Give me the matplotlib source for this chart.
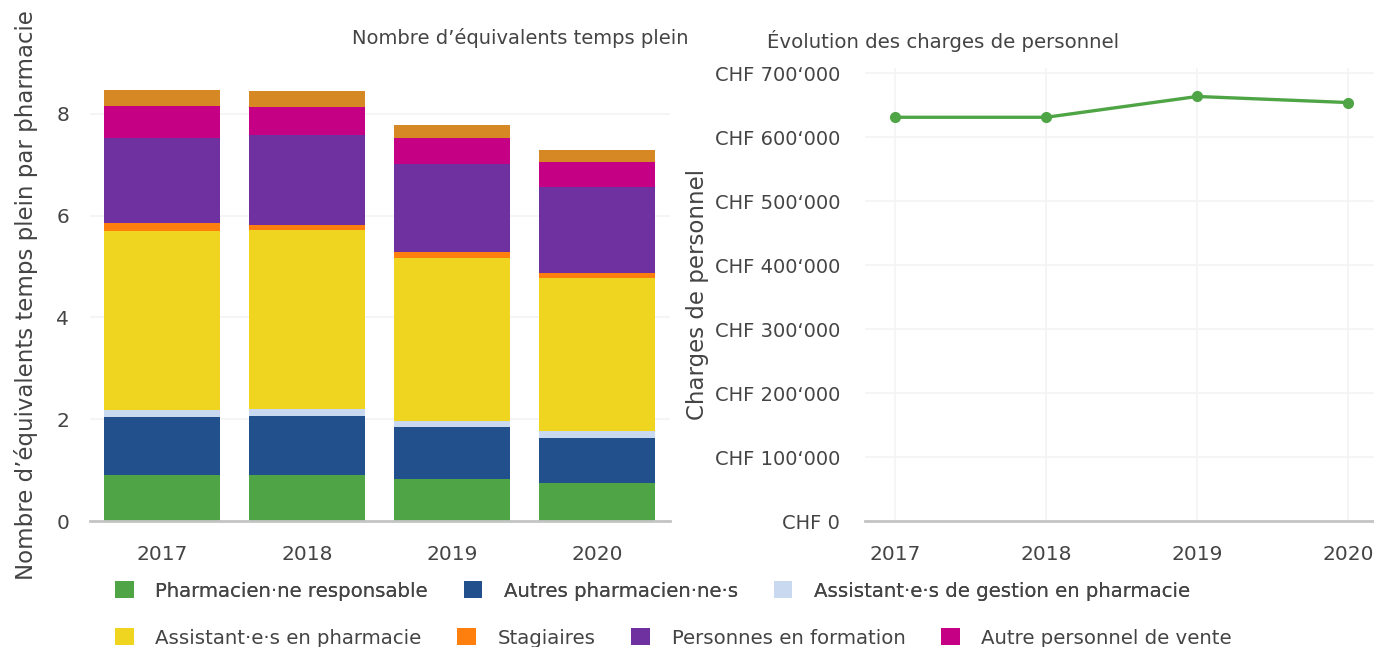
import matplotlib.pyplot as plt
from matplotlib.patches import Patch
from matplotlib.ticker import FuncFormatter

years = ["2017", "2018", "2019", "2020"]

# stacked FTE per pharmacy, bottom to top
categories = [
    "Pharmacien·ne responsable",
    "Autres pharmacien·ne·s",
    "Assistant·e·s de gestion en pharmacie",
    "Assistant·e·s en pharmacie",
    "Stagiaires",
    "Personnes en formation",
    "Autre personnel de vente",
    "Autres",
]
pharm_resp = [0.90, 0.90, 0.83, 0.75]
autres_pharm = [1.14, 1.16, 1.02, 0.88]
assist_gestion = [0.15, 0.14, 0.12, 0.13]
assist_pharm = [3.51, 3.52, 3.20, 3.02]
stagiaires = [0.16, 0.10, 0.12, 0.09]
formation = [1.67, 1.77, 1.73, 1.70]
autre_vente = [0.63, 0.55, 0.51, 0.49]
autres = [0.31, 0.31, 0.25, 0.23]
series = [pharm_resp, autres_pharm, assist_gestion, assist_pharm,
          stagiaires, formation, autre_vente, autres]

colors = ["#4fa545", "#22508c", "#c8d9f0", "#efd420",
          "#ff7f0e", "#7031a0", "#c50084", "#d58824"]

line_years = [2017, 2018, 2019, 2020]
charges = [631000, 631000, 663500, 654000]

text_col = "#444444"
grid_col = "#f3f3f3"
plt.rcParams["font.family"] = ["DejaVu Sans"]

fig = plt.figure(figsize=(13.74, 6.47), dpi=100)
ax1 = fig.add_axes([0.0655, 0.1947, 0.422, 0.700])
ax2 = fig.add_axes([0.6296, 0.1947, 0.3704, 0.700])

x = list(range(len(years)))
bottom = [0.0] * len(years)
for vals, col in zip(series, colors):
    ax1.bar(x, vals, 0.8, bottom=bottom, color=col, linewidth=0)
    bottom = [b + v for b, v in zip(bottom, vals)]

ax1.set_xlim(-0.5, 3.5)
ax1.set_ylim(0, 8.9)
ax1.set_xticks(x, years)
ax1.set_yticks([0, 2, 4, 6, 8])
ax1.yaxis.grid(True, color=grid_col, linewidth=1.2)
ax1.set_axisbelow(True)
ax1.set_ylabel("Nombre d’équivalents temps plein par pharmacie",
               fontsize=16.5, color=text_col, labelpad=13)

ax2.plot(line_years, charges, color="#4fa545", linewidth=2.4,
         marker="o", markersize=7)
ax2.set_xlim(2016.8, 2020.17)
ax2.set_ylim(0, 707800)
ax2.set_xticks(line_years)
ax2.set_yticks(range(0, 700001, 100000))
ax2.yaxis.set_major_formatter(
    FuncFormatter(lambda v, p: "CHF " + f"{int(v):,}".replace(",", "\u2018")))
ax2.grid(True, color=grid_col, linewidth=1.2)
ax2.set_axisbelow(True)
ax2.set_ylabel("Charges de personnel", fontsize=16.5, color=text_col, labelpad=4)

for ax in (ax1, ax2):
    for s in ("top", "right", "left"):
        ax.spines[s].set_visible(False)
    ax.spines["bottom"].set_color("#c4c4c4")
    ax.spines["bottom"].set_linewidth(2)
    ax.tick_params(length=0, labelsize=14.5, colors=text_col)
    ax.tick_params(axis="x", pad=17)
ax1.tick_params(axis="y", pad=15)
ax2.tick_params(axis="y", pad=18, labelsize=14)

fig.text(0.501, 0.941, "Nombre d’équivalents temps plein", ha="right",
         va="center", fontsize=14, color=text_col)
fig.text(0.558, 0.937, "Évolution des charges de personnel", ha="left",
         va="center", fontsize=14.2, color=text_col)

handles = [Patch(facecolor=c, edgecolor="none") for c in colors]
leg_kw = dict(frameon=False, fontsize=14.2, handlelength=0.95, handleheight=0.95,
              handletextpad=1.1, columnspacing=1.8, borderpad=0,
              borderaxespad=0, loc="center left", labelcolor=text_col)
leg1 = fig.legend(handles[:3], categories[:3], ncol=3,
                  bbox_to_anchor=(0.0837, 0.0866), **leg_kw)
fig.add_artist(leg1)
fig.legend(handles[3:7], categories[3:7], ncol=4,
           bbox_to_anchor=(0.0837, 0.0139), **leg_kw)

fig.savefig("out.png", dpi=100)
